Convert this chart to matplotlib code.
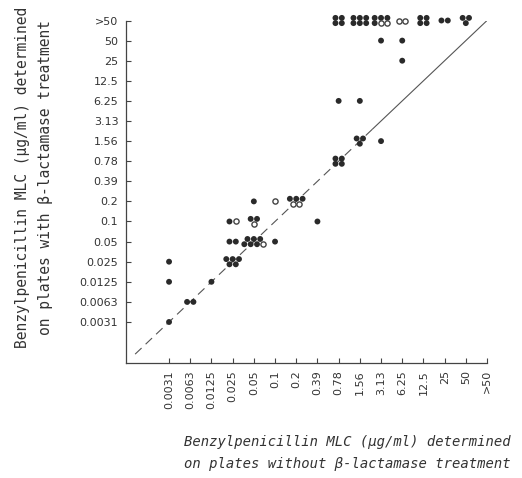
import numpy as np
import matplotlib.pyplot as plt

# MLC categories, shared by both axes
levels = ['0.0031', '0.0063', '0.0125', '0.025', '0.05', '0.1', '0.2', '0.39',
          '0.78', '1.56', '3.13', '6.25', '12.5', '25', '50', '>50']

# one entry per occupied cell: x MLC, y MLC, filled strains, open strains
x_mlc = ['0.0031', '0.0031', '0.0031', '0.0063', '0.0125', '0.025', '0.025', '0.025',
         '0.05', '0.05', '0.05', '0.1', '0.1', '0.2', '0.39', '0.78', '0.78', '0.78',
         '1.56', '1.56', '1.56', '3.13', '3.13', '3.13', '6.25', '6.25', '6.25',
         '12.5', '25', '50']
y_mlc = ['0.0031', '0.0125', '0.025', '0.0063', '0.0125', '0.025', '0.05', '0.1',
         '0.05', '0.1', '0.2', '0.05', '0.2', '0.2', '0.1', '0.78', '6.25', '>50',
         '1.56', '6.25', '>50', '1.56', '50', '>50', '25', '50', '>50',
         '>50', '>50', '>50']
n_filled = [1, 1, 1, 2, 1, 5, 2, 1, 6, 2, 1, 1, 0, 3, 1, 4, 1, 4, 3, 1, 6, 1, 1, 4, 1, 1, 0, 4, 2, 3]
n_open = [0, 0, 0, 0, 0, 0, 0, 1, 1, 1, 0, 0, 1, 2, 0, 0, 0, 0, 0, 0, 0, 0, 0, 2, 0, 0, 2, 0, 0, 0]


def cluster(n):
    # small offsets so stacked strains in a cell stay visible
    h, v = 0.15, 0.13
    if n == 1:
        return [(0, 0)]
    if n == 2:
        return [(-h, 0), (h, 0)]
    if n == 3:
        return [(-h, v), (h, v), (0, -v)]
    if n == 4:
        return [(-h, v), (h, v), (-h, -v), (h, -v)]
    if n == 5:
        return [(-2*h, v), (0, v), (2*h, v), (-h, -v), (h, -v)]
    if n == 6:
        return [(-2*h, v), (0, v), (2*h, v), (-2*h, -v), (0, -v), (2*h, -v)]
    return [(-2*h, v), (0, v), (2*h, v), (-3*h, -v), (-h, -v), (h, -v), (3*h, -v)]


fig = plt.figure(figsize=(5.22, 4.78), dpi=100)
ax = fig.add_axes([0.2414, 0.2406, 0.6916, 0.7165])

fx, fy, ox, oy = [], [], [], []
for xm, ym, nf, no in zip(x_mlc, y_mlc, n_filled, n_open):
    xi, yi = levels.index(xm), levels.index(ym)
    offs = cluster(nf + no)
    for k, (dx, dy) in enumerate(offs):
        if k < nf:
            fx.append(xi + dx); fy.append(yi + dy)
        else:
            ox.append(xi + dx); oy.append(yi + dy)

ax.scatter(fx, fy, s=18, c='#2a2a2a', edgecolors='none', clip_on=False, zorder=3)
ax.scatter(ox, oy, s=14, facecolors='white', edgecolors='#444444', linewidths=1.0,
           clip_on=False, zorder=3)

# line of identity, dashed in the lower part
ax.plot([-1.6, 9.6], [-1.6, 9.6], color='#555555', lw=0.8, dashes=(8, 5))
ax.plot([9.6, 15], [9.6, 15], color='#555555', lw=0.8)

idx = np.arange(len(levels))
ax.set_xticks(idx)
ax.set_xticklabels(levels, rotation=90)
ax.set_yticks(idx)
ax.set_yticklabels(levels)
ax.set_xlim(-2.03, 15)
ax.set_ylim(-2.04, 15)
ax.spines['top'].set_visible(False)
ax.spines['right'].set_visible(False)
for s in ['left', 'bottom']:
    ax.spines[s].set_color('#444444')
    ax.spines[s].set_linewidth(0.9)
ax.tick_params(direction='in', length=3.5, width=0.8, color='#444444',
               labelsize=8, labelcolor='#333333')
ax.tick_params(axis='y', pad=5.5)
ax.tick_params(axis='x', pad=5)

fig.text(0.666, 0.052, 'Benzylpenicillin MLC (\u03bcg/ml) determined\n'
         'on plates without \u03b2-lactamase treatment',
         ha='center', va='center', fontsize=10, family='DejaVu Sans Mono',
         style='italic', color='#333333', linespacing=1.75)
fig.text(0.065, 0.628, 'Benzylpenicillin MLC (\u03bcg/ml) determined\n'
         'on plates with \u03b2-lactamase treatment',
         ha='center', va='center', rotation=90, fontsize=10.5,
         family='DejaVu Sans Mono', color='#333333', linespacing=1.6)

fig.savefig('out.png', dpi=100)
